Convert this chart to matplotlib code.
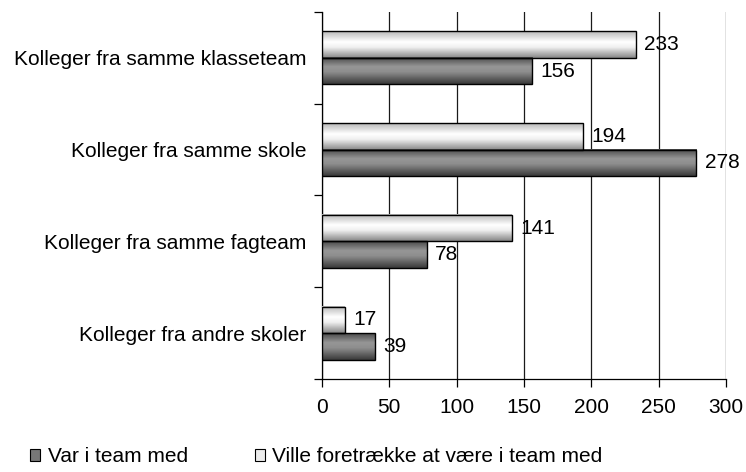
import numpy as np
import matplotlib
matplotlib.use("Agg")
import matplotlib.pyplot as plt
from matplotlib.colors import LinearSegmentedColormap
from matplotlib.patches import Patch

plt.rcParams['font.family'] = ['Liberation Sans', 'DejaVu Sans']

categories = ["Kolleger fra samme klasseteam", "Kolleger fra samme skole",
              "Kolleger fra samme fagteam", "Kolleger fra andre skoler"]
var_i_team = [156, 278, 78, 39]
ville_foretraekke = [233, 194, 141, 17]
series_names = ["Var i team med", "Ville foretrække at være i team med"]
x_ticks = [0, 50, 100, 150, 200, 250, 300]

FS = 15

dark_cmap = LinearSegmentedColormap.from_list(
    "dark", [(0, '#4a4a4a'), (0.35, '#969696'), (0.55, '#8e8e8e'), (1, '#3a3a3a')])
light_cmap = LinearSegmentedColormap.from_list(
    "light", [(0, '#b8b8b8'), (0.4, '#ffffff'), (0.6, '#f0f0f0'), (1, '#878787')])

fig = plt.figure(figsize=(7.46, 4.72), dpi=100)
ax = fig.add_axes([322 / 746, 1 - 379 / 472, (726 - 322) / 746, (379 - 12) / 472])

y = np.arange(len(categories))
h = 0.289
bars_light = ax.barh(y - h / 2, ville_foretraekke, height=h, facecolor='none',
                     edgecolor='black', linewidth=1.0, zorder=4)
bars_dark = ax.barh(y + h / 2, var_i_team, height=h, facecolor='none',
                    edgecolor='black', linewidth=1.0, zorder=4)

# vertical gradient fill inside each bar
grad = np.linspace(0, 1, 64).reshape(-1, 1)
for bars, cmap in ((bars_light, light_cmap), (bars_dark, dark_cmap)):
    for b in bars:
        x0, y0 = b.get_x(), b.get_y()
        ax.imshow(grad, cmap=cmap, aspect='auto', origin='upper',
                  extent=(x0, x0 + b.get_width(), y0 + b.get_height(), y0),
                  zorder=3, interpolation='bilinear')

for bars, vals in ((bars_light, ville_foretraekke), (bars_dark, var_i_team)):
    for b, v in zip(bars, vals):
        ax.annotate(str(v), (b.get_width(), b.get_y() + b.get_height() / 2),
                    xytext=(6, 0), textcoords='offset points',
                    ha='left', va='center', fontsize=FS, zorder=5)

ax.set_xlim(0, 300)
ax.set_ylim(len(categories) - 0.5, -0.5)
ax.set_xticks(x_ticks)
ax.set_xticklabels([str(t) for t in x_ticks], fontsize=FS)
ax.set_yticks(y)
ax.set_yticklabels(categories, fontsize=FS)
ax.set_yticks(np.arange(len(categories) + 1) - 0.5, minor=True)
ax.tick_params(axis='y', which='major', length=0, pad=11)
ax.tick_params(axis='y', which='minor', length=6, width=0.9, direction='out')
ax.tick_params(axis='x', length=6, width=0.9, direction='out', pad=8)

ax.xaxis.grid(True, color='#1a1a1a', linewidth=0.9)
ax.set_axisbelow(True)
for side in ('top', 'right'):
    ax.spines[side].set_visible(False)
for side in ('left', 'bottom'):
    ax.spines[side].set_linewidth(0.9)

handles = [Patch(facecolor='#777777', edgecolor='black', linewidth=0.8),
           Patch(facecolor='#ececec', edgecolor='black', linewidth=0.8)]
fig.legend(handles, series_names, loc='center left',
           bbox_to_anchor=(30 / 746, 1 - 457 / 472), ncol=2, frameon=False,
           fontsize=FS, handlelength=0.5, handleheight=0.5,
           handletextpad=0.35, columnspacing=3.2, borderpad=0, borderaxespad=0)

fig.savefig("out.png", dpi=100)
